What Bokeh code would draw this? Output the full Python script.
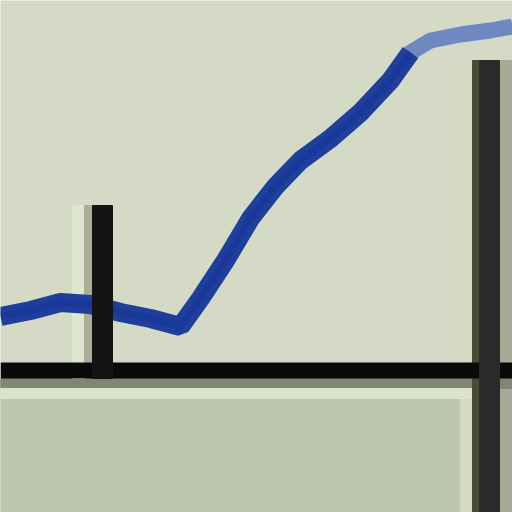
from bokeh.plotting import figure
from bokeh.embed import file_html
from bokeh.resources import INLINE
from bokeh.models import Range1d

# blue series (reference pixel space, y down)
line_x = [0, 30, 60, 90, 120, 150, 180, 200, 225, 250, 275, 300, 330, 360, 390, 410, 430, 460, 490, 512]
line_y = [316, 310, 302, 304, 312, 318, 326, 298, 260, 218, 186, 160, 138, 112, 80, 52, 40, 34, 30, 26]

# black axis line
axis_x = [0, 512]
axis_y = [370, 370]

# vertical bars: x centre, top
bar_x = [102, 489]
bar_top = [205, 60]
bar_bottom = [378, 520]
bar_color = ["#141414", "#2a2a2a"]

p = figure(width=512, height=512, output_backend="svg", toolbar_location=None,
           x_range=Range1d(0, 512), y_range=Range1d(512, 0),
           min_border=0, border_fill_color="#d4dac6")
p.axis.visible = False
p.grid.visible = False
p.outline_line_color = None
p.background_fill_color = "#d4dac6"

# lower area
p.quad(left=[0], right=[512], top=[378], bottom=[520], color="#bec6ae")
p.quad(left=[460], right=[472], top=[60], bottom=[520], color="#d2dac4")
p.quad(left=[500], right=[512], top=[60], bottom=[520], color="#a6aa96")
p.quad(left=[0], right=[512], top=[378], bottom=[388], color="#7e8676")
p.quad(left=[0], right=[472], top=[388], bottom=[398], color="#dde3cb")

# light guide lines
p.quad(left=[72], right=[84], top=[205], bottom=[378], color="#dde6cf")
p.quad(left=[84], right=[92], top=[205], bottom=[362], color="#a8ae98")
p.quad(left=[472], right=[480], top=[60], bottom=[520], color="#4a4a38")

# blue line
p.line(line_x[14:], line_y[14:], line_width=16, color="#7088c2")
p.line(line_x[:16], line_y[:16], line_width=19, color="#1e3f9a")
p.line(line_x[:16], line_y[:16], line_width=7, color="#17339a", alpha=0.6)

# axis
p.line(axis_x, axis_y, line_width=16, color="#0a0a08")

# bars
for xc, t, b, c in zip(bar_x, bar_top, bar_bottom, bar_color):
    p.quad(left=[xc - 10], right=[xc + 10], top=[t], bottom=[b], color=c)

open("out.html", "w").write(file_html(p, INLINE))
